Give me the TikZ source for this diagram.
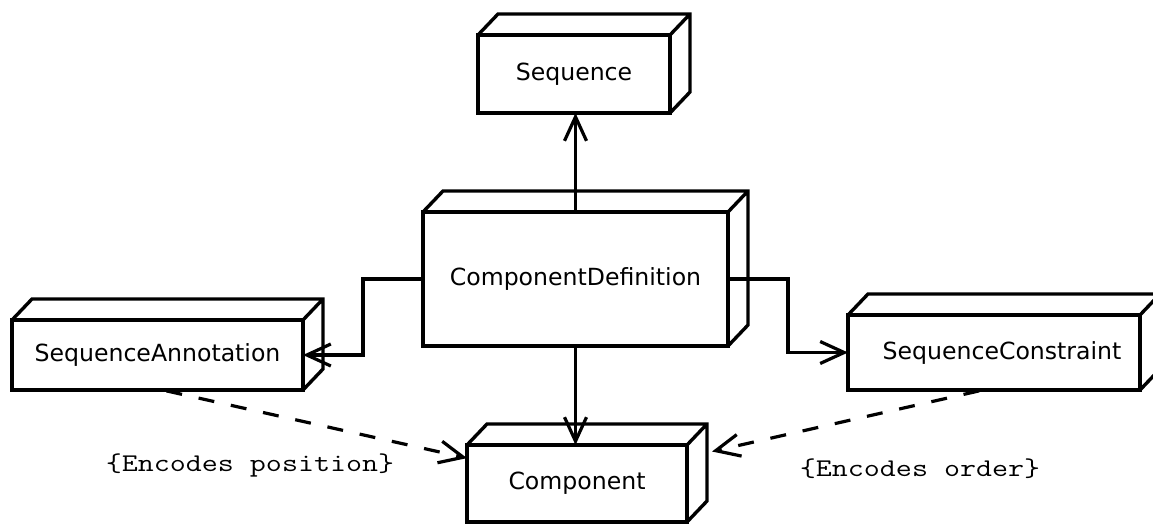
\documentclass[tikz,border=0pt]{standalone}
\usepackage{fontspec}
\setmainfont{DejaVu Sans}
\newfontfamily\codefont[FakeStretch=1.22]{Latin Modern Mono}
\usetikzlibrary{arrows.meta,calc}
\begin{document}
\begin{tikzpicture}[x=1pt,y=-1pt,
  box3d/.style={draw, line width=3.4pt, rectangle, inner sep=0pt, outer sep=0pt, fill=white,
    font=\fontsize{23.6}{28}\selectfont},
  depth/.style={line width=3.4pt, line join=miter},
  conn/.style={line width=3.2pt, -{Straight Barb[length=24pt,width=22pt]}},
  dep/.style={conn, dash pattern=on 16pt off 17pt},
  lbl/.style={inner sep=0pt, font=\codefont\fontsize{25.5}{30}\selectfont}]
\useasboundingbox (0,0) rectangle (1153,525);

\node[box3d, minimum width=192pt, minimum height=78pt] (seq) at (574,74) {Sequence};
\node[box3d, minimum width=305pt, minimum height=134pt] (cd) at (575.5,279) {ComponentDefinition};
\node[box3d, minimum width=291pt, minimum height=70pt] (sa) at (157.5,355) {SequenceAnnotation};
\node[box3d, minimum width=292pt, minimum height=75pt] (sc) at (994,352.5) {\hspace*{16pt}SequenceConstraint};
\node[box3d, minimum width=220pt, minimum height=77pt] (comp) at (577,483.5) {Component};

\foreach \n in {seq,cd,sa,sc,comp}
  \draw[depth] (\n.north west) -- ++(20pt,21pt) -| ($(\n.south east)+(20pt,21pt)$) -- (\n.south east)
               (\n.north east) -- ++(20pt,21pt);

\draw[conn] (cd.north) -- (cd.north |- seq.south);
\draw[conn] (cd.west) -| ($(cd.west)!0.5!(sa.east)$) |- (sa.east);
\draw[conn] (cd.east) -| ($(cd.east)!0.5!(sc.west)$) |- (sc.west);
\draw[conn] (cd.south) -- (cd.south |- comp.north);
\draw[dep, shorten <=4pt] ($(sa.south)+(5pt,0pt)$) -- (comp.167);
\draw[dep, shorten <=4pt] ($(sc.south)+(-11pt,0pt)$) -- ($(comp.east)+(25pt,32pt)$);

\node[lbl] (pos) at (250,465) {\{Encodes position\}};
\node[lbl] (ord) at (920,469) {\{Encodes order\}};
\end{tikzpicture}
\end{document}
